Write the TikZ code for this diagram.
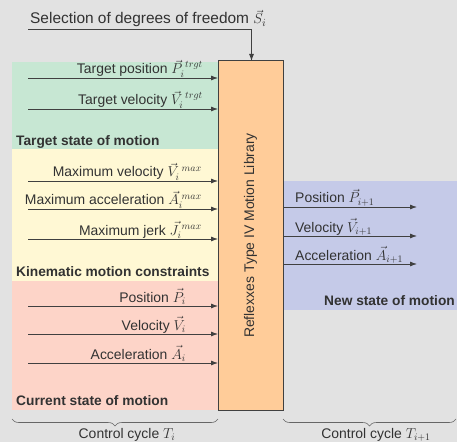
\documentclass[tikz,border=0pt]{standalone}
\usepackage{fontspec}
\setmainfont{Liberation Sans}
\usetikzlibrary{arrows.meta,decorations.pathreplacing,calc}
\definecolor{bgc}{RGB}{226,226,226}
\definecolor{greenc}{RGB}{199,231,211}
\definecolor{yellowc}{RGB}{255,248,212}
\definecolor{redc}{RGB}{253,212,200}
\definecolor{orangec}{RGB}{255,204,153}
\definecolor{bluec}{RGB}{197,202,232}
\definecolor{txt}{RGB}{50,50,50}
\definecolor{ln}{RGB}{64,64,64}
\begin{document}
\begin{tikzpicture}[x=1bp,y=-1bp,
  font=\fontsize{14}{17}\selectfont, text=txt,
  region/.style={inner sep=0, outer sep=0, anchor=north west},
  libbox/.style={draw=ln, line width=1bp, fill=orangec, inner sep=0, outer sep=0, anchor=north west, minimum width=65bp, minimum height=349bp},
  arr/.style={draw=ln, line width=0.8bp, -{Latex[length=7bp,width=5bp]}},
  lbl/.style={inner sep=0, anchor=base east},
  olbl/.style={inner sep=0, anchor=base west},
  title/.style={inner sep=0, font=\fontsize{13.8}{16}\selectfont\bfseries},
  brc/.style={draw=gray!80!black, line width=0.6bp, decorate, decoration={brace,mirror,amplitude=7bp}}]
\useasboundingbox (0,0) rectangle (457,442);
\fill[bgc] (0,0) rectangle (457,442);
% regions
\node[region, fill=greenc, minimum width=206bp, minimum height=87bp] (tgt) at (12,62) {};
\node[region, fill=yellowc, minimum width=206bp, minimum height=132bp] (kin) at (12,149) {};
\node[region, fill=redc, minimum width=206bp, minimum height=129bp] (cur) at (12,281) {};
\node[region, fill=bluec, minimum width=174bp, minimum height=129bp] (new) at (283,181) {};
\node[libbox] (lib) at (218,61) {};
\node[rotate=90, font=\fontsize{14}{16}\selectfont] (libtxt) at (lib.center) {Reflexxes Type IV Motion Library};
% titles
\node[title, anchor=base west] (tgttitle) at (16,146) {Target state of motion};
\node[title, anchor=base west] (kintitle) at (16,276) {Kinematic motion constraints};
\node[title, anchor=base west] (curtitle) at (16,405) {Current state of motion};
\node[title, anchor=base east] (newtitle) at (455,305) {New state of motion};
% selection
\coordinate (sel) at (28,29);
\coordinate (selc) at (lib.north |- sel);
\node[olbl, font=\fontsize{15.5}{18}\selectfont] (seltxt) at (30,24) {Selection of degrees of freedom \(\vec{S}_i\)};
\draw[arr] (sel) -- ($(selc)+(1,0)$) -- ($(lib.north)+(1,0)$);
% inputs
\coordinate (i1) at (28,78);
\coordinate (i2) at (28,109);
\coordinate (i3) at (28,181);
\coordinate (i4) at (28,209);
\coordinate (i5) at (28,239);
\coordinate (i6) at (28,306);
\coordinate (i7) at (28,334);
\coordinate (i8) at (28,363);
\foreach \c in {i1,i2,i3,i4,i5,i6,i7,i8} {\draw[arr] (\c) -- (\c -| lib.west);}
\node[lbl] (l1) at (203,74) {Target position \(\vec{P}_i^{\;trgt}\)};
\node[lbl] (l2) at (203,105) {Target velocity \(\vec{V}_i^{\;trgt}\)};
\node[lbl] (l3) at (202,177) {Maximum velocity \(\vec{V}_i^{\;max}\)};
\node[lbl] (l4) at (202,205) {Maximum acceleration \(\vec{A}_i^{\;max}\)};
\node[lbl] (l5) at (202,235) {Maximum jerk \(\vec{J}_i^{\;max}\)};
\node[lbl] (l6) at (186,302) {Position \(\vec{P}_i\)};
\node[lbl] (l7) at (186,330) {Velocity \(\vec{V}_i\)};
\node[lbl] (l8) at (186,359) {Acceleration \(\vec{A}_i\)};
% outputs
\coordinate (o1) at (417,207);
\coordinate (o2) at (417,236);
\coordinate (o3) at (417,264);
\foreach \c in {o1,o2,o3} {\draw[arr] (\c -| lib.east) -- (\c);}
\node[olbl] (r1) at (295,203) {Position \(\vec{P}_{i+1}\)};
\node[olbl] (r2) at (295,232) {Velocity \(\vec{V}_{i+1}\)};
\node[olbl] (r3) at (295,260) {Acceleration \(\vec{A}_{i+1}\)};
% braces
\coordinate (b1s) at (12,419);
\coordinate (b1e) at (218,419);
\coordinate (b2s) at (283,419);
\coordinate (b2e) at (456,419);
\draw[brc] (b1s) -- (b1e);
\draw[brc] (b2s) -- (b2e);
\node[anchor=base, inner sep=0] (c1) at (127,438) {Control cycle \(T_i\)};
\node[anchor=base, inner sep=0] (c2) at (376,438) {Control cycle \(T_{i+1}\)};
\end{tikzpicture}
\end{document}
